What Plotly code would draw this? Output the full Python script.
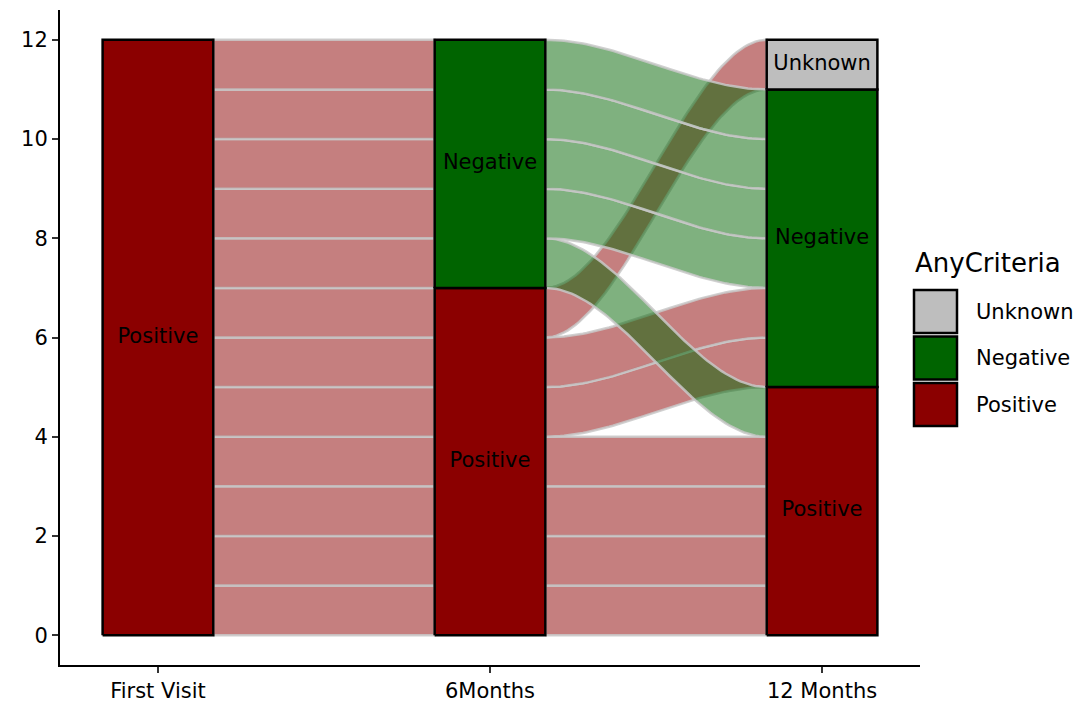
import numpy as np
import plotly.graph_objects as go

# ---------------- data ----------------
axis_labels = ["First Visit", "6Months", "12 Months"]
strata_order = ["Positive", "Negative", "Unknown"]  # bottom -> top
strata_colors = {"Positive": "#8B0000", "Negative": "#006400", "Unknown": "#BEBEBE"}
flow_colors = {"Positive": "rgba(139,0,0,0.5)", "Negative": "rgba(0,100,0,0.5)", "Unknown": "rgba(190,190,190,0.5)"}

first_visit = ["Positive", "Positive", "Positive", "Positive", "Positive", "Positive",
               "Positive", "Positive", "Positive", "Positive", "Positive", "Positive"]
six_months = ["Positive", "Positive", "Positive", "Positive", "Positive", "Positive",
              "Positive", "Negative", "Negative", "Negative", "Negative", "Negative"]
twelve_months = ["Positive", "Positive", "Positive", "Positive", "Negative", "Negative",
                 "Unknown", "Positive", "Negative", "Negative", "Negative", "Negative"]

timepoints = [first_visit, six_months, twelve_months]
n = len(first_visit)
box_w = 1 / 3
rank = {s: i for i, s in enumerate(strata_order)}


def stratum_bases(states):
    base, acc = {}, 0
    for s in strata_order:
        base[s] = acc
        acc += states.count(s)
    return base


def positions(states, other):
    base = stratum_bases(states)
    pos = [0] * n
    for s in strata_order:
        members = [i for i in range(n) if states[i] == s]
        members.sort(key=lambda i: (rank[other[i]], i))
        for k, i in enumerate(members):
            pos[i] = base[s] + k
    return pos


def smooth(t):
    return 3 * t ** 2 - 2 * t ** 3


fig = go.Figure()

# ---------------- flows ----------------
t = np.linspace(0, 1, 60)
for a in range(len(timepoints) - 1):
    A, B = timepoints[a], timepoints[a + 1]
    left = positions(A, B)
    right = positions(B, A)
    xa, xb = a + 1 + box_w / 2, a + 2 - box_w / 2
    xs = xa + (xb - xa) * t
    order = sorted(range(n), key=lambda i: (rank[A[i]], i))
    for i in order:
        y0 = left[i] + (right[i] - left[i]) * smooth(t)
        y1 = y0 + 1
        x_poly = np.concatenate([xs, xs[::-1], xs[:1]])
        y_poly = np.concatenate([y0, y1[::-1], y0[:1]])
        fig.add_trace(go.Scatter(
            x=x_poly, y=y_poly, mode="lines", fill="toself",
            fillcolor=flow_colors[A[i]],
            line=dict(color="rgba(200,200,200,0.85)", width=2.5),
            hoverinfo="skip", showlegend=False))

# ---------------- strata boxes ----------------
lab_x, lab_y, lab_t = [], [], []
for a, states in enumerate(timepoints):
    xc = a + 1
    base = stratum_bases(states)
    for s in strata_order:
        c = states.count(s)
        if c == 0:
            continue
        lo, hi = base[s], base[s] + c
        fig.add_trace(go.Scatter(
            x=[xc - box_w / 2, xc + box_w / 2, xc + box_w / 2, xc - box_w / 2, xc - box_w / 2],
            y=[lo, lo, hi, hi, lo], mode="lines", fill="toself",
            fillcolor=strata_colors[s], line=dict(color="black", width=2.5),
            hoverinfo="skip", showlegend=False))
        lab_x.append(xc)
        lab_y.append((lo + hi) / 2)
        lab_t.append(s)

fig.add_trace(go.Scatter(x=lab_x, y=lab_y, text=lab_t, mode="text",
                         textfont=dict(family="DejaVu Sans", size=21, color="black"),
                         hoverinfo="skip", showlegend=False))

# ---------------- layout (page has an 8px body offset) ----------------
OFF = 8
W, H = 1082, 705
L, T = 60 - OFF, 10 - OFF
pw, ph = 860, 655
R = W - L - pw
Bm = H - T - ph


def px(x):
    return (x - OFF - L) / pw


def py(y):
    return (T + ph - (y - OFF)) / ph


fig.add_annotation(x=px(913), y=py(263), xref="paper", yref="paper", text="AnyCriteria",
                   showarrow=False, xanchor="left", yanchor="middle",
                   font=dict(family="DejaVu Sans", size=26, color="black"))
legend_items = ["Unknown", "Negative", "Positive"]
for k, s in enumerate(legend_items):
    top = 290 + k * 46.5
    bot = top + 43
    fig.add_shape(type="rect", xref="paper", yref="paper",
                  x0=px(914), x1=px(957), y0=py(bot), y1=py(top),
                  fillcolor=strata_colors[s], line=dict(color="black", width=2.5))
    fig.add_annotation(x=px(974), y=py((top + bot) / 2), xref="paper", yref="paper", text=s,
                       showarrow=False, xanchor="left", yanchor="middle",
                       font=dict(family="DejaVu Sans", size=21, color="black"))

fig.update_layout(
    width=W, height=H, margin=dict(l=L, r=R, t=T, b=Bm),
    plot_bgcolor="white", paper_bgcolor="white", showlegend=False,
    font=dict(family="DejaVu Sans", size=21, color="black"),
    xaxis=dict(range=[0.705, 3.295], tickvals=[1, 2, 3], ticktext=axis_labels,
               showline=True, linecolor="black", linewidth=2, ticks="outside",
               ticklen=6, tickwidth=1.5, tickcolor="#333", showgrid=False, zeroline=False,
               tickfont=dict(size=21, color="black")),
    yaxis=dict(range=[-0.6, 12.6], tickvals=[0, 2, 4, 6, 8, 10, 12],
               showline=True, linecolor="black", linewidth=2, ticks="outside",
               ticklen=6, tickwidth=1.5, tickcolor="#333", showgrid=False, zeroline=False,
               tickfont=dict(size=21, color="black")),
)

fig.write_html("out.html")
